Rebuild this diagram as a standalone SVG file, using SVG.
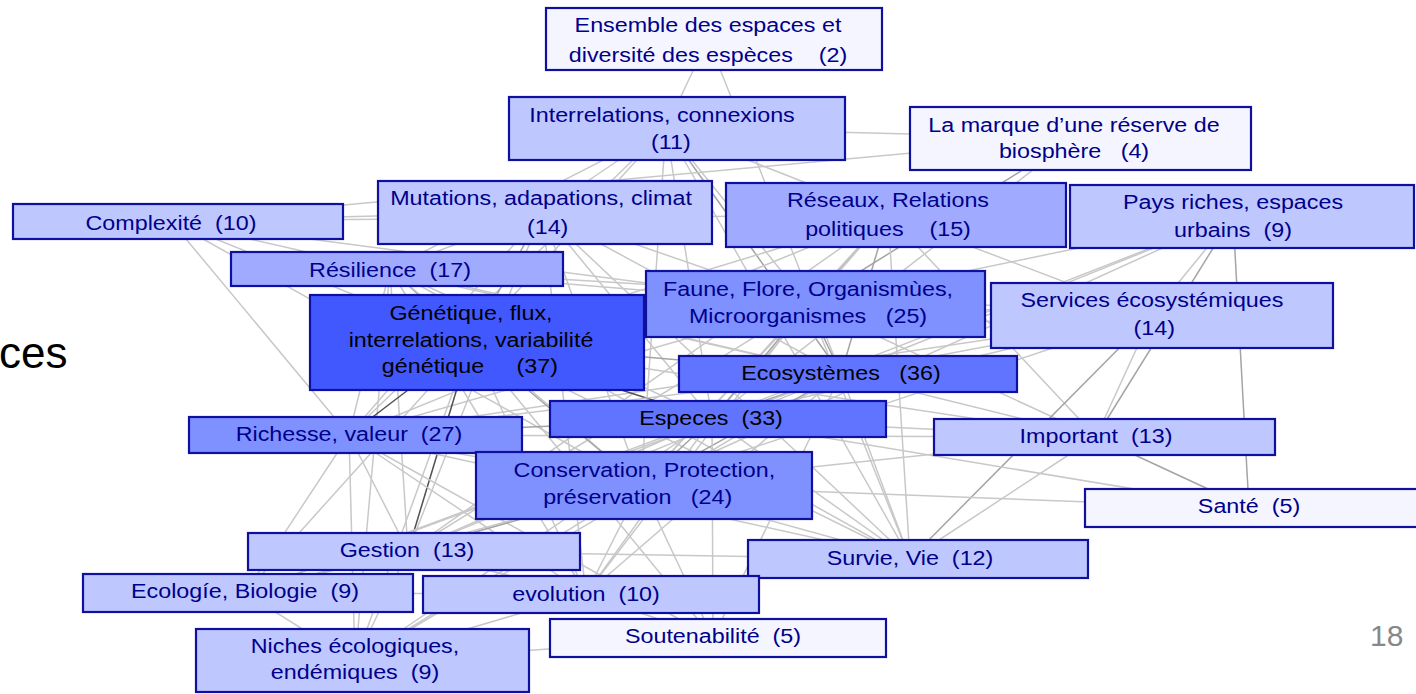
<svg xmlns="http://www.w3.org/2000/svg" width="1416" height="694" viewBox="0 0 1416 694">
<style>
.e{stroke:#c8c8c8;stroke-width:1.5;fill:none}
.m{stroke:#a4a4a4}
.d{stroke:#505050}
.b{stroke:#1010a0;stroke-width:2.2}
.c0{fill:#f5f5ff}
.c1{fill:#bfc7ff}
.c2{fill:#a0abff}
.c3{fill:#7f90ff}
.c4{fill:#6174ff}
.c5{fill:#4258ff}
.t{font-family:"Liberation Sans",Arial,sans-serif;font-size:21px;fill:#00008b;text-anchor:middle}
.k{fill:#000}
</style>
<rect width="1416" height="694" fill="#fff"/>
<g id="connectors">
<line class="e" x1="708" y1="39" x2="666" y2="128"/>
<line class="e" x1="708" y1="39" x2="841" y2="374"/>
<line class="e" x1="666" y1="128" x2="1074" y2="138"/>
<line class="e" x1="666" y1="128" x2="471" y2="342"/>
<line class="e" x1="666" y1="128" x2="808" y2="304"/>
<line class="e m" x1="666" y1="128" x2="841" y2="374"/>
<line class="e" x1="666" y1="128" x2="712" y2="419"/>
<line class="e" x1="666" y1="128" x2="542" y2="212"/>
<line class="e" x1="666" y1="128" x2="888" y2="215"/>
<line class="e" x1="666" y1="128" x2="390" y2="269"/>
<line class="e" x1="666" y1="128" x2="349" y2="435"/>
<line class="e" x1="666" y1="128" x2="641" y2="485"/>
<line class="e" x1="666" y1="128" x2="910" y2="559"/>
<line class="e" x1="1074" y1="138" x2="171" y2="221"/>
<line class="e m" x1="1074" y1="138" x2="808" y2="304"/>
<line class="e" x1="1074" y1="138" x2="712" y2="419"/>
<line class="e" x1="171" y1="221" x2="542" y2="212"/>
<line class="e" x1="171" y1="221" x2="888" y2="215"/>
<line class="e" x1="171" y1="221" x2="808" y2="304"/>
<line class="e" x1="171" y1="221" x2="349" y2="435"/>
<line class="e" x1="171" y1="221" x2="841" y2="374"/>
<line class="e" x1="171" y1="221" x2="471" y2="342"/>
<line class="e" x1="171" y1="221" x2="641" y2="485"/>
<line class="e m" x1="542" y1="212" x2="471" y2="342"/>
<line class="e" x1="542" y1="212" x2="808" y2="304"/>
<line class="e" x1="542" y1="212" x2="841" y2="374"/>
<line class="e" x1="542" y1="212" x2="712" y2="419"/>
<line class="e" x1="542" y1="212" x2="390" y2="269"/>
<line class="e" x1="542" y1="212" x2="349" y2="435"/>
<line class="e" x1="542" y1="212" x2="641" y2="485"/>
<line class="e" x1="542" y1="212" x2="586" y2="594"/>
<line class="e" x1="542" y1="212" x2="910" y2="559"/>
<line class="e" x1="542" y1="212" x2="408" y2="551"/>
<line class="e m" x1="888" y1="215" x2="808" y2="304"/>
<line class="e m" x1="888" y1="215" x2="841" y2="374"/>
<line class="e" x1="888" y1="215" x2="712" y2="419"/>
<line class="e" x1="888" y1="215" x2="1152" y2="315"/>
<line class="e" x1="888" y1="215" x2="910" y2="559"/>
<line class="e" x1="888" y1="215" x2="471" y2="342"/>
<line class="e" x1="888" y1="215" x2="641" y2="485"/>
<line class="e" x1="888" y1="215" x2="349" y2="435"/>
<line class="e" x1="888" y1="215" x2="408" y2="551"/>
<line class="e" x1="888" y1="215" x2="1096" y2="437"/>
<line class="e m" x1="1233" y1="216" x2="1249" y2="508"/>
<line class="e m" x1="1233" y1="216" x2="1096" y2="437"/>
<line class="e" x1="1233" y1="216" x2="712" y2="419"/>
<line class="e" x1="1233" y1="216" x2="841" y2="374"/>
<line class="e" x1="1233" y1="216" x2="641" y2="485"/>
<line class="e" x1="1233" y1="216" x2="808" y2="304"/>
<line class="e" x1="1233" y1="216" x2="1152" y2="315"/>
<line class="e m" x1="390" y1="269" x2="471" y2="342"/>
<line class="e" x1="390" y1="269" x2="841" y2="374"/>
<line class="e" x1="390" y1="269" x2="712" y2="419"/>
<line class="e" x1="390" y1="269" x2="808" y2="304"/>
<line class="e" x1="390" y1="269" x2="349" y2="435"/>
<line class="e" x1="390" y1="269" x2="641" y2="485"/>
<line class="e" x1="390" y1="269" x2="408" y2="551"/>
<line class="e" x1="390" y1="269" x2="355" y2="662"/>
<line class="e" x1="390" y1="269" x2="910" y2="559"/>
<line class="e" x1="390" y1="269" x2="1152" y2="315"/>
<line class="e" x1="390" y1="269" x2="586" y2="594"/>
<line class="e m" x1="808" y1="304" x2="471" y2="342"/>
<line class="e m" x1="808" y1="304" x2="841" y2="374"/>
<line class="e m" x1="808" y1="304" x2="712" y2="419"/>
<line class="e" x1="808" y1="304" x2="349" y2="435"/>
<line class="e" x1="808" y1="304" x2="641" y2="485"/>
<line class="e" x1="808" y1="304" x2="408" y2="551"/>
<line class="e" x1="808" y1="304" x2="910" y2="559"/>
<line class="e" x1="808" y1="304" x2="1152" y2="315"/>
<line class="e" x1="808" y1="304" x2="1096" y2="437"/>
<line class="e" x1="808" y1="304" x2="586" y2="594"/>
<line class="e" x1="1152" y1="315" x2="1096" y2="437"/>
<line class="e m" x1="1152" y1="315" x2="910" y2="559"/>
<line class="e" x1="1152" y1="315" x2="841" y2="374"/>
<line class="e" x1="1152" y1="315" x2="712" y2="419"/>
<line class="e" x1="1152" y1="315" x2="471" y2="342"/>
<line class="e" x1="1152" y1="315" x2="641" y2="485"/>
<line class="e" x1="1152" y1="315" x2="349" y2="435"/>
<line class="e m" x1="471" y1="342" x2="841" y2="374"/>
<line class="e d" x1="471" y1="342" x2="712" y2="419"/>
<line class="e d" x1="471" y1="342" x2="349" y2="435"/>
<line class="e d" x1="471" y1="342" x2="408" y2="551"/>
<line class="e m" x1="471" y1="342" x2="641" y2="485"/>
<line class="e" x1="471" y1="342" x2="910" y2="559"/>
<line class="e" x1="471" y1="342" x2="245" y2="593"/>
<line class="e" x1="471" y1="342" x2="586" y2="594"/>
<line class="e" x1="471" y1="342" x2="355" y2="662"/>
<line class="e" x1="471" y1="342" x2="1096" y2="437"/>
<line class="e" x1="471" y1="342" x2="713" y2="638"/>
<line class="e m" x1="841" y1="374" x2="712" y2="419"/>
<line class="e" x1="841" y1="374" x2="349" y2="435"/>
<line class="e" x1="841" y1="374" x2="1096" y2="437"/>
<line class="e m" x1="841" y1="374" x2="641" y2="485"/>
<line class="e" x1="841" y1="374" x2="408" y2="551"/>
<line class="e" x1="841" y1="374" x2="910" y2="559"/>
<line class="e" x1="841" y1="374" x2="245" y2="593"/>
<line class="e" x1="841" y1="374" x2="586" y2="594"/>
<line class="e" x1="841" y1="374" x2="355" y2="662"/>
<line class="e" x1="841" y1="374" x2="713" y2="638"/>
<line class="e m" x1="712" y1="419" x2="349" y2="435"/>
<line class="e m" x1="712" y1="419" x2="641" y2="485"/>
<line class="e" x1="712" y1="419" x2="1249" y2="508"/>
<line class="e" x1="712" y1="419" x2="408" y2="551"/>
<line class="e" x1="712" y1="419" x2="910" y2="559"/>
<line class="e" x1="712" y1="419" x2="245" y2="593"/>
<line class="e" x1="712" y1="419" x2="586" y2="594"/>
<line class="e" x1="712" y1="419" x2="713" y2="638"/>
<line class="e" x1="712" y1="419" x2="355" y2="662"/>
<line class="e" x1="712" y1="419" x2="1096" y2="437"/>
<line class="e" x1="349" y1="435" x2="245" y2="593"/>
<line class="e" x1="349" y1="435" x2="355" y2="662"/>
<line class="e" x1="349" y1="435" x2="408" y2="551"/>
<line class="e" x1="349" y1="435" x2="641" y2="485"/>
<line class="e" x1="349" y1="435" x2="910" y2="559"/>
<line class="e" x1="349" y1="435" x2="586" y2="594"/>
<line class="e" x1="349" y1="435" x2="713" y2="638"/>
<line class="e" x1="349" y1="435" x2="1096" y2="437"/>
<line class="e m" x1="1096" y1="437" x2="1249" y2="508"/>
<line class="e" x1="1096" y1="437" x2="641" y2="485"/>
<line class="e" x1="1096" y1="437" x2="910" y2="559"/>
<line class="e m" x1="641" y1="485" x2="408" y2="551"/>
<line class="e" x1="641" y1="485" x2="355" y2="662"/>
<line class="e" x1="641" y1="485" x2="910" y2="559"/>
<line class="e" x1="641" y1="485" x2="713" y2="638"/>
<line class="e" x1="641" y1="485" x2="586" y2="594"/>
<line class="e" x1="641" y1="485" x2="245" y2="593"/>
<line class="e" x1="641" y1="485" x2="1249" y2="508"/>
<line class="e" x1="408" y1="551" x2="355" y2="662"/>
<line class="e" x1="408" y1="551" x2="245" y2="593"/>
<line class="e" x1="408" y1="551" x2="586" y2="594"/>
<line class="e" x1="408" y1="551" x2="910" y2="559"/>
<line class="e" x1="245" y1="593" x2="355" y2="662"/>
<line class="e" x1="245" y1="593" x2="586" y2="594"/>
<line class="e" x1="586" y1="594" x2="355" y2="662"/>
<line class="e" x1="586" y1="594" x2="713" y2="638"/>
<line class="e" x1="586" y1="594" x2="910" y2="559"/>
<line class="e" x1="713" y1="638" x2="355" y2="662"/>
</g>
<text x="-1" y="368" font-family="Liberation Sans, Arial, sans-serif" font-size="44" fill="#000">ces</text>
<text x="1370" y="646" font-family="Liberation Sans, Arial, sans-serif" font-size="30" fill="#888">18</text>
<g id="n-ensemble"><rect class="b c0" x="546" y="8" width="336" height="62"/><text class="t" xml:space="preserve" transform="matrix(1.11 0 0 1 708 0)"><tspan x="0" y="32">Ensemble des espaces et</tspan><tspan x="0" y="62">diversité des espèces    (2)</tspan></text></g>
<g id="n-interrelations"><rect class="b c1" x="509" y="97" width="336" height="63"/><text class="t" xml:space="preserve" transform="matrix(1.11 0 0 1 662 0)"><tspan x="0" y="122">Interrelations, connexions</tspan><tspan x="8" y="149">(11)</tspan></text></g>
<g id="n-marque"><rect class="b c0" x="910" y="107" width="341" height="63"/><text class="t" xml:space="preserve" transform="matrix(1.11 0 0 1 1074 0)"><tspan x="0" y="132">La marque d’une réserve de</tspan><tspan x="0" y="158">biosphère   (4)</tspan></text></g>
<g id="n-complexite"><rect class="b c1" x="13" y="204" width="330" height="35"/><text class="t" xml:space="preserve" transform="matrix(1.11 0 0 1 171 0)" y="230">Complexité  (10)</text></g>
<g id="n-mutations"><rect class="b c1" x="378" y="181" width="334" height="63"/><text class="t" xml:space="preserve" transform="matrix(1.11 0 0 1 541 0)"><tspan x="0" y="205">Mutations, adapations, climat</tspan><tspan x="6" y="234">(14)</tspan></text></g>
<g id="n-reseaux"><rect class="b c2" x="726" y="183" width="340" height="64"/><text class="t" xml:space="preserve" transform="matrix(1.11 0 0 1 888 0)"><tspan x="0" y="207">Réseaux, Relations</tspan><tspan x="0" y="236">politiques    (15)</tspan></text></g>
<g id="n-pays"><rect class="b c1" x="1070" y="185" width="344" height="63"/><text class="t" xml:space="preserve" transform="matrix(1.11 0 0 1 1233 0)"><tspan x="0" y="209">Pays riches, espaces</tspan><tspan x="0" y="237">urbains  (9)</tspan></text></g>
<g id="n-resilience"><rect class="b c2" x="231" y="252" width="332" height="34"/><text class="t" xml:space="preserve" transform="matrix(1.11 0 0 1 390 0)" y="277">Résilience  (17)</text></g>
<g id="n-faune"><rect class="b c3" x="646" y="271" width="339" height="66"/><text class="t" xml:space="preserve" transform="matrix(1.11 0 0 1 808 0)"><tspan x="0" y="296">Faune, Flore, Organismùes,</tspan><tspan x="0" y="323">Microorganismes   (25)</tspan></text></g>
<g id="n-services"><rect class="b c1" x="991" y="283" width="342" height="65"/><text class="t" xml:space="preserve" transform="matrix(1.11 0 0 1 1152 0)"><tspan x="0" y="307">Services écosystémiques</tspan><tspan x="2" y="335">(14)</tspan></text></g>
<g id="n-genetique"><rect class="b c5" x="310" y="295" width="334" height="95"/><text class="t k" xml:space="preserve" transform="matrix(1.11 0 0 1 471 0)"><tspan x="0" y="320">Génétique, flux,</tspan><tspan x="0" y="347">interrelations, variabilité</tspan><tspan x="-1" y="373">génétique     (37)</tspan></text></g>
<g id="n-ecosystemes"><rect class="b c4" x="679" y="356" width="338" height="36"/><text class="t k" xml:space="preserve" transform="matrix(1.11 0 0 1 841 0)" y="380">Ecosystèmes   (36)</text></g>
<g id="n-especes"><rect class="b c4" x="550" y="401" width="336" height="36"/><text class="t k" xml:space="preserve" transform="matrix(1.11 0 0 1 711 0)" y="425">Especes  (33)</text></g>
<g id="n-richesse"><rect class="b c3" x="189" y="417" width="333" height="36"/><text class="t" xml:space="preserve" transform="matrix(1.11 0 0 1 349 0)" y="441">Richesse, valeur  (27)</text></g>
<g id="n-important"><rect class="b c1" x="934" y="419" width="341" height="36"/><text class="t" xml:space="preserve" transform="matrix(1.11 0 0 1 1096 0)" y="443">Important  (13)</text></g>
<g id="n-conservation"><rect class="b c3" x="476" y="452" width="336" height="67"/><text class="t" xml:space="preserve" transform="matrix(1.11 0 0 1 641 0)"><tspan x="3" y="477">Conservation, Protection,</tspan><tspan x="-3" y="504">préservation   (24)</tspan></text></g>
<g id="n-sante"><rect class="b c0" x="1085" y="489" width="340" height="38"/><text class="t" xml:space="preserve" transform="matrix(1.11 0 0 1 1249 0)" y="513">Santé  (5)</text></g>
<g id="n-gestion"><rect class="b c1" x="248" y="533" width="332" height="37"/><text class="t" xml:space="preserve" transform="matrix(1.11 0 0 1 407 0)" y="557">Gestion  (13)</text></g>
<g id="n-survie"><rect class="b c1" x="748" y="540" width="340" height="38"/><text class="t" xml:space="preserve" transform="matrix(1.11 0 0 1 910 0)" y="565">Survie, Vie  (12)</text></g>
<g id="n-ecologie"><rect class="b c1" x="83" y="574" width="330" height="38"/><text class="t" xml:space="preserve" transform="matrix(1.11 0 0 1 245 0)" y="598">Ecologíe, Biologie  (9)</text></g>
<g id="n-evolution"><rect class="b c1" x="423" y="576" width="336" height="37"/><text class="t" xml:space="preserve" transform="matrix(1.11 0 0 1 586 0)" y="601">evolution  (10)</text></g>
<g id="n-soutenabilite"><rect class="b c0" x="550" y="619" width="336" height="38"/><text class="t" xml:space="preserve" transform="matrix(1.11 0 0 1 713 0)" y="643">Soutenabilité  (5)</text></g>
<g id="n-niches"><rect class="b c1" x="196" y="629" width="333" height="63"/><text class="t" xml:space="preserve" transform="matrix(1.11 0 0 1 355 0)"><tspan x="0" y="653">Niches écologiques,</tspan><tspan x="0" y="679">endémiques  (9)</tspan></text></g>
</svg>
